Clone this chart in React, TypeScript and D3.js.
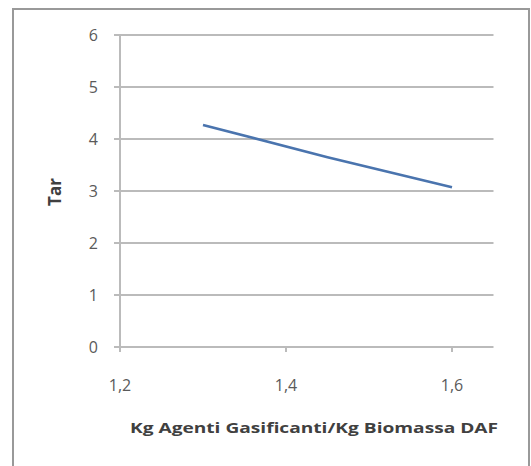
import React from "react";
import * as d3 from "d3";

const xValues = [1.3, 1.45, 1.6];
const tarValues = [4.27, 3.65, 3.07];
const xTicks = [1.2, 1.4, 1.6];
const yTicks = [0, 1, 2, 3, 4, 5, 6];
const xTitle = "Kg Agenti Gasificanti/Kg Biomassa DAF";
const yTitle = "Tar";

export default function App() {
  const W = 531, H = 466;
  const x = d3.scaleLinear().domain([1.2, 1.65]).range([120, 493.5]);
  const y = d3.scaleLinear().domain([0, 6]).range([347, 35]);
  const pts = xValues.map((v, i) => [v, tarValues[i]] as [number, number]);
  const line = d3.line<[number, number]>().x(d => x(d[0])).y(d => y(d[1]));
  const font = "'Open Sans', 'Liberation Sans', sans-serif";
  const fmt = (v: number) => v.toFixed(1).replace(".", ",");
  return (
    <svg width={W} height={H} style={{ position: "absolute", left: 0, top: 0, background: "#fff" }}>
      <rect x={13} y={9} width={516} height={470} fill="#fff" stroke="#999" strokeWidth={2} />
      {yTicks.map(t => (
        <g key={t}>
          <line x1={114} x2={493.5} y1={y(t)} y2={y(t)} stroke="#bbb" strokeWidth={2} />
          <text x={98} y={y(t)} dy="0.36em" textAnchor="end" fontFamily={font} fontSize={16} fill="#5a5a5a">{t}</text>
        </g>
      ))}
      <line x1={120} x2={120} y1={y(6)} y2={y(0) + 5} stroke="#bbb" strokeWidth={2} />
      {xTicks.map(t => (
        <g key={t}>
          <line x1={x(t)} x2={x(t)} y1={y(0)} y2={y(0) + 5} stroke="#bbb" strokeWidth={2} />
          <text x={x(t)} y={385} dy="0.36em" textAnchor="middle" fontFamily={font} fontSize={16} fill="#5a5a5a">{fmt(t)}</text>
        </g>
      ))}
      <path d={line(pts) || ""} fill="none" stroke="#4a74ae" strokeWidth={2.6} />
      <text x={314} y={428} dy="0.36em" textAnchor="middle" fontFamily={font} fontSize={15} fontWeight="bold" fill="#404040" textLength={368} lengthAdjust="spacingAndGlyphs">{xTitle}</text>
      <text transform={`translate(55,192) rotate(-90)`} dy="0.36em" textAnchor="middle" fontFamily={font} fontSize={17} fontWeight="bold" fill="#404040">{yTitle}</text>
    </svg>
  );
}
